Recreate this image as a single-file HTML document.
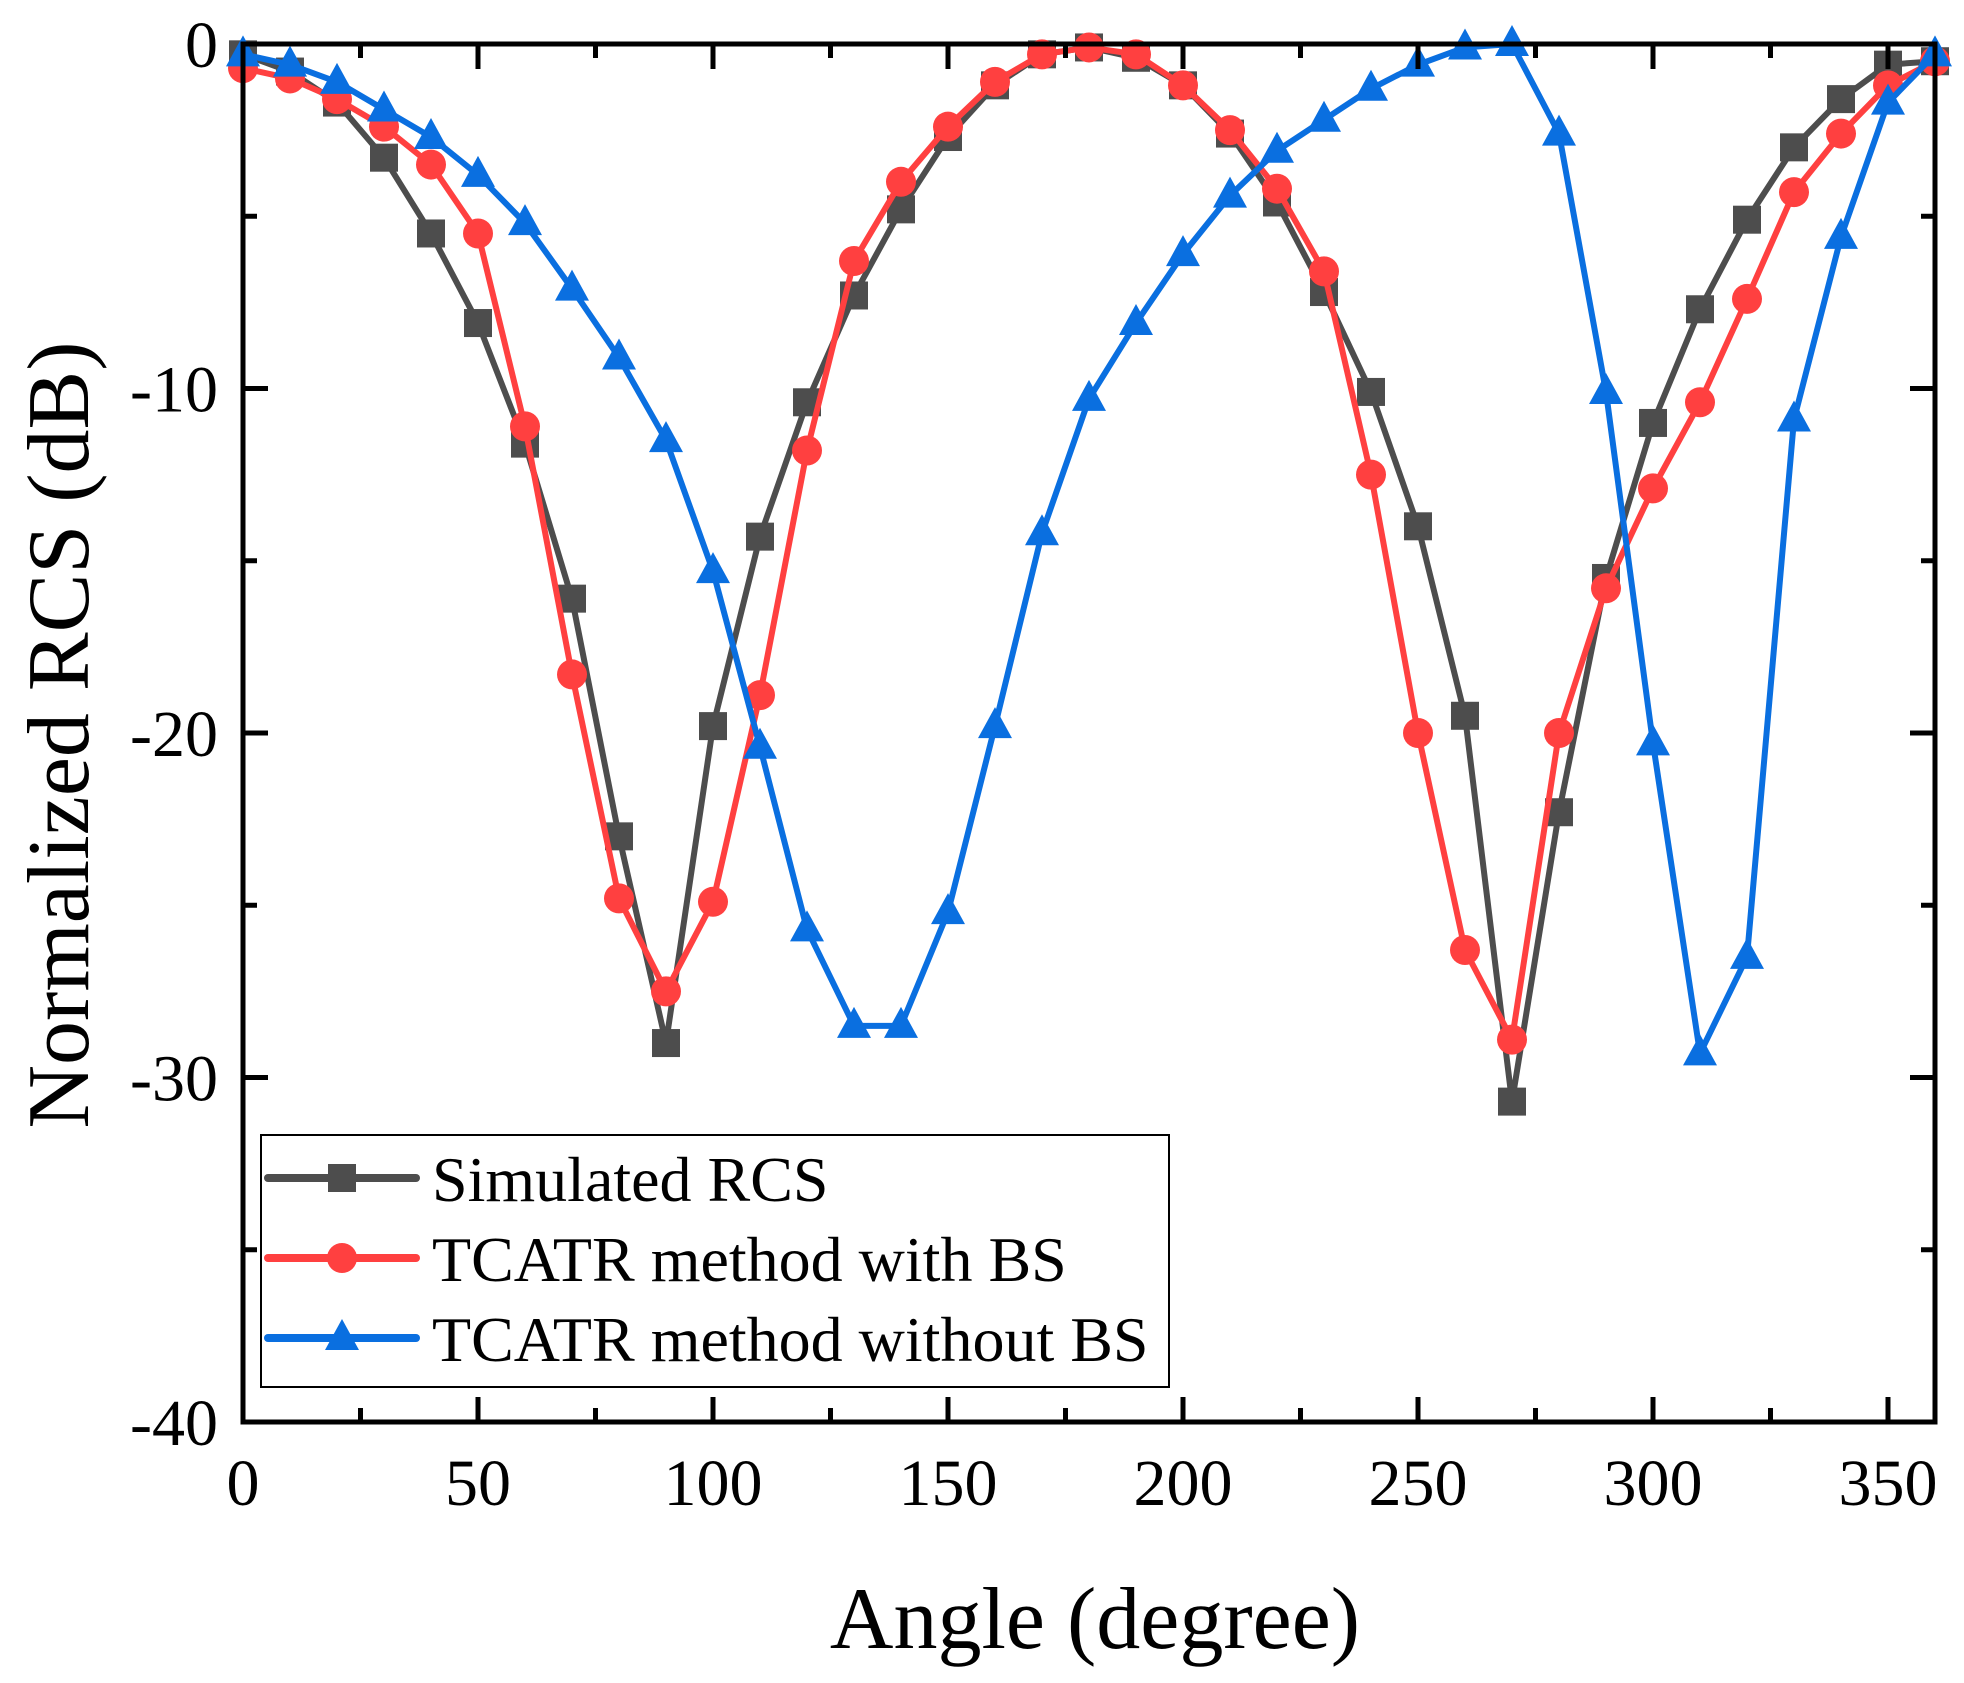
<!DOCTYPE html>
<html><head><meta charset="utf-8"><style>
html,body{margin:0;padding:0;background:#fff}
svg{display:block;font-family:"Liberation Serif",serif}
</style></head><body>
<svg id="chart" width="1964" height="1683" viewBox="0 0 1964 1683" xmlns="http://www.w3.org/2000/svg">
<g id="series"></g>
<g id="axes"></g>
</svg>
<script>
const angles=[0,10,20,30,40,50,60,70,80,90,100,110,120,130,140,150,160,170,180,190,200,210,220,230,240,250,260,270,280,290,300,310,320,330,340,350,360];
const simulated=[-0.3,-0.8,-1.7,-3.3,-5.5,-8.1,-11.6,-16.1,-23,-29,-19.8,-14.3,-10.4,-7.3,-4.8,-2.7,-1.2,-0.3,-0.1,-0.4,-1.2,-2.6,-4.6,-7.2,-10.1,-14,-19.5,-30.7,-22.3,-15.5,-11,-7.7,-5.1,-3,-1.6,-0.6,-0.5];
const withBS=[-0.7,-1,-1.6,-2.4,-3.5,-5.5,-11.1,-18.3,-24.8,-27.5,-24.9,-18.9,-11.8,-6.3,-4,-2.4,-1.1,-0.3,-0.1,-0.3,-1.2,-2.5,-4.2,-6.6,-12.5,-20,-26.3,-28.9,-20,-15.8,-12.9,-10.4,-7.4,-4.3,-2.6,-1.2,-0.5];
const withoutBS=[-0.3,-0.6,-1.1,-1.9,-2.7,-3.8,-5.2,-7.1,-9.1,-11.5,-15.3,-20.4,-25.7,-28.5,-28.5,-25.2,-19.8,-14.2,-10.3,-8.1,-6.1,-4.4,-3.1,-2.2,-1.3,-0.6,-0.1,0,-2.6,-10.1,-20.3,-29.3,-26.5,-10.9,-5.6,-1.7,-0.3];
const xTicks=[0,50,100,150,200,250,300,350];
const yTicks=[0,-10,-20,-30,-40];
const legendLabels=["Simulated RCS","TCATR method with BS","TCATR method without BS"];

const NS="http://www.w3.org/2000/svg";
const X0=243,X1=1935,Y0=44,Y1=1422;
function sx(v){return X0+(v/360)*(X1-X0);}
function sy(v){return Y0+(v/-40)*(Y1-Y0);}
function mk(tag,attrs,parent){const e=document.createElementNS(NS,tag);for(const k in attrs)e.setAttribute(k,attrs[k]);parent.appendChild(e);return e;}
const gS=document.getElementById('series'),gA=document.getElementById('axes');

function marker(type,x,y,color,parent){
  let e;
  if(type==='square') e=mk('rect',{x:x-14,y:y-14,width:28,height:28,fill:color},parent);
  else if(type==='circle') e=mk('circle',{cx:x,cy:y,r:15,fill:color},parent);
  else e=mk('polygon',{points:`${x},${y-19} ${x+17},${y+12} ${x-17},${y+12}`,fill:color},parent);
  return e;
}
const series=[
 {vals:simulated,color:'#4d4d4d',m:'square',name:'simulated-rcs'},
 {vals:withBS,color:'#ff4040',m:'circle',name:'tcatr-with-bs'},
 {vals:withoutBS,color:'#0a6fe0',m:'triangle',name:'tcatr-without-bs'}];
series.forEach(s=>{
  const g=mk('g',{},gS);
  
  
  const pts=angles.map((a,i)=>sx(a)+','+sy(s.vals[i])).join(' ');
  const pl=mk('polyline',{points:pts,fill:'none',stroke:s.color,'stroke-width':6,'stroke-linejoin':'round'},g);
  
  
  angles.forEach((a,i)=>{
    const m=marker(s.m,sx(a),sy(s.vals[i]),s.color,g);
    
    
  });
});

const fr=mk('rect',{x:X0,y:Y0,width:X1-X0,height:Y1-Y0,fill:'none',stroke:'#000','stroke-width':5},gA);


for(let v=0;v<=360;v+=25){
  const major=v%50===0, L=major?25:14, x=sx(v);
  mk('line',{x1:x,y1:Y1,x2:x,y2:Y1-L,stroke:'#000','stroke-width':5},gA);
  mk('line',{x1:x,y1:Y0,x2:x,y2:Y0+L,stroke:'#000','stroke-width':5},gA);
}
xTicks.forEach(v=>{
  const t=mk('text',{x:sx(v),y:1505,'font-size':66,'text-anchor':'middle'},gA);
  t.textContent=v;
  
  
});
for(let v=0;v>=-40;v-=5){
  const major=v%10===0, L=major?25:14, y=sy(v);
  mk('line',{x1:X0,y1:y,x2:X0+L,y2:y,stroke:'#000','stroke-width':5},gA);
  mk('line',{x1:X1,y1:y,x2:X1-L,y2:y,stroke:'#000','stroke-width':5},gA);
}
yTicks.forEach(v=>{
  const t=mk('text',{x:218,y:sy(v)+23,'font-size':66,'text-anchor':'end'},gA);
  t.textContent=v;
  
  
});
const xt=mk('text',{x:1095,y:1648,'font-size':88,'text-anchor':'middle'},gA);
xt.textContent='Angle (degree)';


const yt=mk('text',{x:0,y:0,'font-size':88,'text-anchor':'middle',transform:'translate(88,735) rotate(-90)'},gA);
yt.textContent='Normalized RCS (dB)';



const lg=mk('g',{},gA);


mk('rect',{x:261,y:1135,width:908,height:252,fill:'#fff',stroke:'#000','stroke-width':2},lg);
series.forEach((s,i)=>{
  const cy=1178+i*80;
  const e=mk('g',{},lg);
  
  
  mk('line',{x1:268,y1:cy,x2:416,y2:cy,stroke:s.color,'stroke-width':8,'stroke-linecap':'round'},e);
  marker(s.m,342,cy,s.color,e);
  const t=mk('text',{x:432,y:cy+23,'font-size':64},e);
  t.textContent=legendLabels[i];
});
</script>
</body></html>
